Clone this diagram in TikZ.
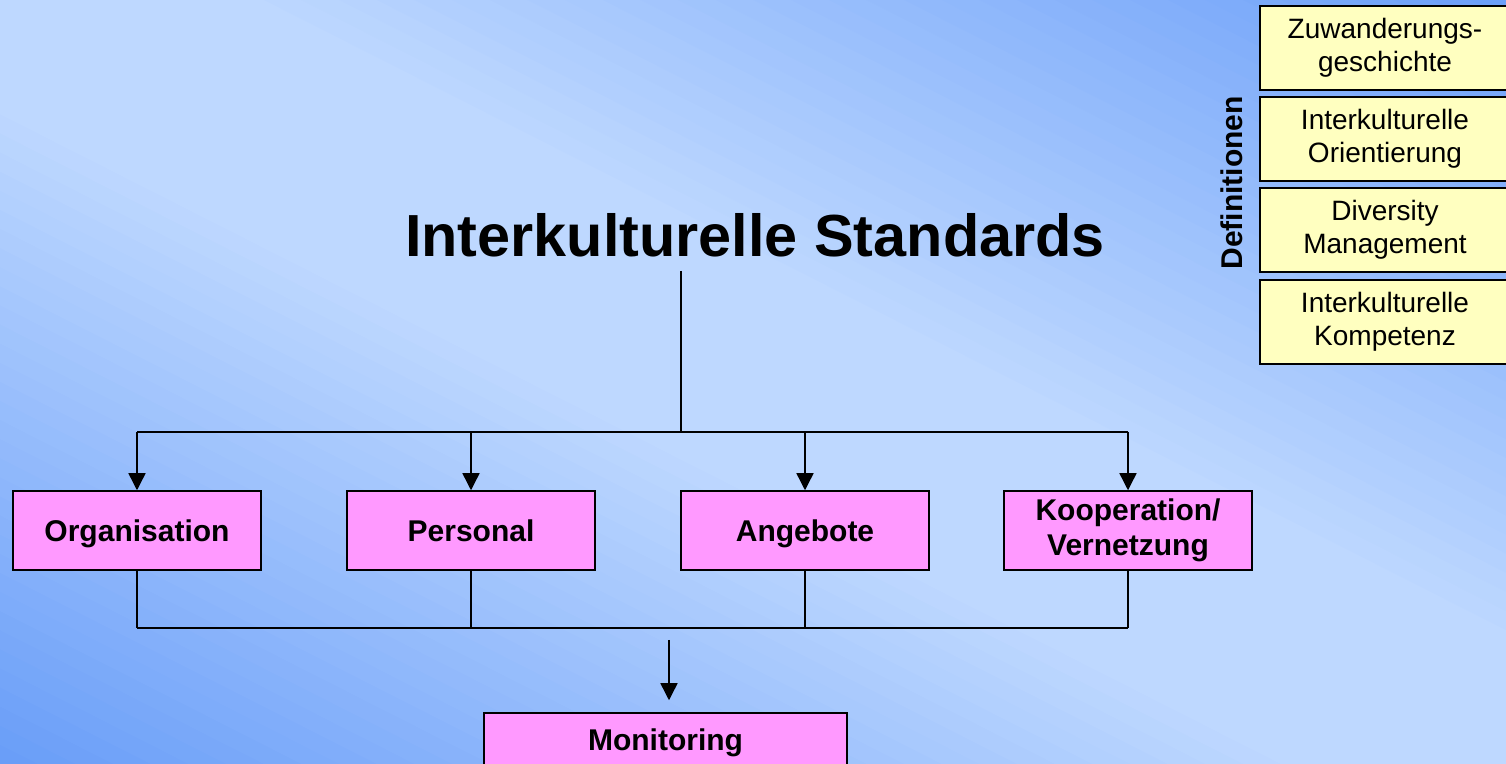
\documentclass[tikz,border=0pt]{standalone}
\usepackage{fontspec}
\setmainfont{Liberation Sans}
\usetikzlibrary{arrows.meta}
\definecolor{bglight}{HTML}{BED8FF}
\definecolor{bgdark}{HTML}{6A9EF8}
\definecolor{pinkbox}{HTML}{FF99FF}
\definecolor{yellowbox}{HTML}{FFFFC0}
\begin{document}
\begin{tikzpicture}[x=0.5pt,y=-0.5pt,
  area/.style={draw,line width=0.75pt,fill=pinkbox,minimum width=124pt,minimum height=39.5pt,inner sep=0pt,align=center,font=\fontsize{15}{17.5}\selectfont\bfseries},
  oneline/.style={text height=14pt,text depth=2.8pt},
  term/.style={draw,line width=0.75pt,fill=yellowbox,minimum width=125pt,minimum height=42pt,inner sep=0pt,align=center,font=\fontsize{14}{16.5}\selectfont},
  link/.style={line width=0.7pt},
  down/.style={link,-{Triangle[width=8.5pt,length=8.5pt]}}]
  \clip (0,0) rectangle (1506,764);
  % background, diagonal bands
  \foreach \t in {-1.05,-1.025,...,1.05} {
    \pgfmathsetmacro\f{max(0,min(100,(abs(\t)-0.15)/0.85*100))}
    \fill[bgdark!\f!bglight] ({1506*(\t-1)},-764) -- ({1506*(\t+2)},1528) -- ({1506*(\t+2.027)},1528) -- ({1506*(\t-0.973)},-764) -- cycle;
  }

  \node[font=\fontsize{29.7}{34}\selectfont\bfseries] (title) at (755,235) {Interkulturelle Standards};
  \node[area,oneline] (org) at (137,530.5) {Organisation};
  \node[area,oneline] (pers) at (471,530.5) {Personal};
  \node[area,oneline] (ang) at (805,530.5) {Angebote};
  \node[area] (koop) at (1128,530.5) {Kooperation/\\Vernetzung};
  \node[area,oneline,minimum width=181.5pt,minimum height=26pt] (mon) at (665.5,739) {Monitoring};

  \node[term] (zu) at (1385,48) {Zuwanderungs-\\geschichte};
  \node[term] (ori) at (1385,139) {Interkulturelle\\Orientierung};
  \node[term] (div) at (1385,230) {Diversity\\Management};
  \node[term] (kom) at (1385,322) {Interkulturelle\\Kompetenz};
  \node[rotate=90,font=\fontsize{15}{17}\selectfont\bfseries] (def) at (1232,183) {Definitionen};

  \coordinate (top) at (681,271);
  \coordinate (split) at (681,432);
  \coordinate (join) at (669,628);
  \coordinate (mstart) at (669,640);

  \draw[link] (top) -- (split);
  \draw[link] (org.north |- split) -- (koop.north |- split);
  \foreach \b in {org,pers,ang,koop}
    \draw[down] (\b.north |- split) -- (\b.north);

  \foreach \b in {org,pers,ang,koop}
    \draw[link] (\b.south) -- (\b.south |- join);
  \draw[link] (org.south |- join) -- (koop.south |- join);
  \draw[down,shorten >=6pt] (mstart) -- (mstart |- mon.north);
\end{tikzpicture}
\end{document}
